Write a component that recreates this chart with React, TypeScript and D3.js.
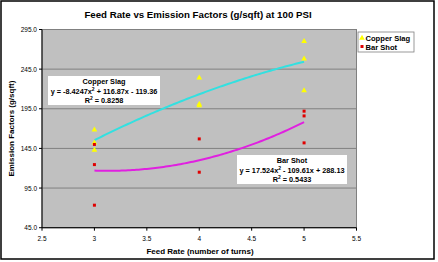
import React from "react";
import * as d3 from "d3";

const title = "Feed Rate vs Emission Factors (g/sqft) at 100 PSI";
const xTicks = [2.5, 3, 3.5, 4, 4.5, 5, 5.5];
const yTicks = [45, 95, 145, 195, 245, 295];
const copperX = [3, 3, 3, 4, 4, 4, 5, 5, 5];
const copperY = [168.5, 152, 143, 234, 201, 199, 280, 258, 218];
const barX = [3, 3, 3, 4, 4, 5, 5, 5];
const barY = [150, 124.6, 73.4, 157, 115, 192, 186, 152];
const copperCoef = [-8.4247, 116.87, -119.36];
const barCoef = [17.524, -109.61, 288.13];

const W = 438, H = 262;
const L = 42, R = 356.5, T = 29.5, B = 227.7;
const font = "'Liberation Sans', Arial, sans-serif";

export default function App() {
  const x = d3.scaleLinear().domain([2.5, 5.5]).range([L, R]);
  const y = d3.scaleLinear().domain([45, 295]).range([B, T]);
  const xs = d3.range(3, 5.0001, 0.02);
  const poly = (c: number[]) => (v: number) => c[0] * v * v + c[1] * v + c[2];
  const path = (c: number[]) =>
    d3.line<number>().x((d) => x(d)).y((d) => y(poly(c)(d)))(xs) || "";
  const tri = d3.symbol().type(d3.symbolTriangle).size(14)() || "";
  const af = 7.3;
  return (
    <svg width={W} height={H} style={{ position: "absolute", left: 0, top: 0, background: "#fff" }} fontFamily={font}>
      <rect x={1} y={1} width={433} height={258} fill="#fff" stroke="#000" strokeWidth={1.5} />
      <text x={198} y={18} textAnchor="middle" fontSize={9.7} fontWeight="bold">{title}</text>
      <rect x={L} y={T} width={R - L} height={B - T} fill="#C0C0C0" stroke="#808080" strokeWidth={1} />
      {yTicks.map((t) => (
        <g key={t}>
          <line x1={L} x2={R} y1={y(t)} y2={y(t)} stroke="#808080" strokeWidth={1} />
          <line x1={L - 3} x2={L} y1={y(t)} y2={y(t)} stroke="#000" />
          <text x={L - 5} y={y(t) + 2.5} textAnchor="end" fontSize={6.5}>{t.toFixed(1)}</text>
        </g>
      ))}
      <line x1={L} x2={L} y1={T} y2={B} stroke="#000" />
      <line x1={L} x2={R} y1={B} y2={B} stroke="#000" />
      {xTicks.map((t) => (
        <g key={t}>
          <line x1={x(t)} x2={x(t)} y1={B} y2={B + 3} stroke="#000" />
          <text x={x(t)} y={B + 13} textAnchor="middle" fontSize={6.5}>{String(t)}</text>
        </g>
      ))}
      <text x={200} y={254} textAnchor="middle" fontSize={8} fontWeight="bold">Feed Rate (number of turns)</text>
      <text transform={`translate(14,${(T + B) / 2}) rotate(-90)`} textAnchor="middle" fontSize={8} fontWeight="bold">Emission Factors (g/sqft)</text>
      <path d={path(copperCoef)} fill="none" stroke="#33E0E0" strokeWidth={2} />
      <path d={path(barCoef)} fill="none" stroke="#E020E0" strokeWidth={2} />
      {copperX.map((v, i) => (
        <path key={"c" + i} d={tri} transform={`translate(${x(v)},${y(copperY[i])})`} fill="#FFFF00" />
      ))}
      {barX.map((v, i) => (
        <rect key={"b" + i} x={x(v) - 1.5} y={y(barY[i]) - 1.5} width={3} height={3} fill="#E00000" />
      ))}
      <rect x={48} y={76} width={112} height={29} fill="#fff" />
      <text x={104} y={84} textAnchor="middle" fontSize={af} fontWeight="bold">Copper Slag</text>
      <text x={104} y={94} textAnchor="middle" fontSize={af} fontWeight="bold">y = -8.4247x<tspan dy={-3} fontSize={5}>2</tspan><tspan dy={3}> + 116.87x - 119.36</tspan></text>
      <text x={104} y={103} textAnchor="middle" fontSize={af} fontWeight="bold">R<tspan dy={-3} fontSize={5}>2</tspan><tspan dy={3}> = 0.8258</tspan></text>
      <rect x={237} y={155} width={110} height={29} fill="#fff" />
      <text x={292} y={163} textAnchor="middle" fontSize={af} fontWeight="bold">Bar Shot</text>
      <text x={292} y={173} textAnchor="middle" fontSize={af} fontWeight="bold">y = 17.524x<tspan dy={-3} fontSize={5}>2</tspan><tspan dy={3}> - 109.61x + 288.13</tspan></text>
      <text x={292} y={182} textAnchor="middle" fontSize={af} fontWeight="bold">R<tspan dy={-3} fontSize={5}>2</tspan><tspan dy={3}> = 0.5433</tspan></text>
      <rect x={358} y={32} width={56} height={20} fill="#fff" stroke="#808080" strokeWidth={0.8} />
      <path d={tri} transform="translate(362,38)" fill="#FFFF00" />
      <text x={365.5} y={40.5} fontSize={7.6} fontWeight="bold">Copper Slag</text>
      <rect x={360.5} y={45} width={3} height={3} fill="#E00000" />
      <text x={365.5} y={49.5} fontSize={7.6} fontWeight="bold">Bar Shot</text>
    </svg>
  );
}
